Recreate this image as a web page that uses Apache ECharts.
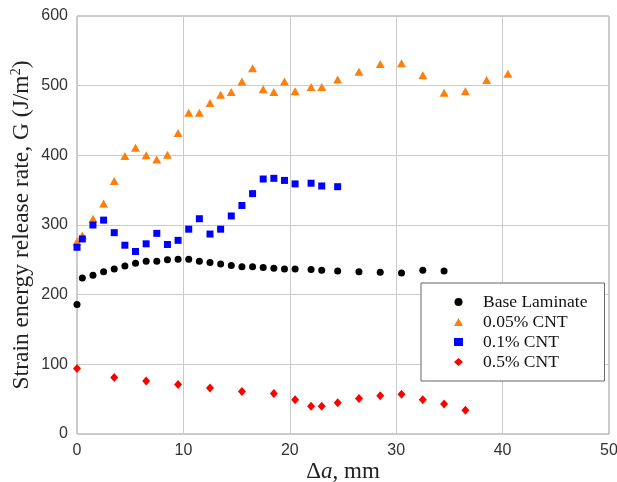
<!DOCTYPE html>
<html>
<head>
<meta charset="utf-8">
<script src="https://cdn.jsdelivr.net/npm/echarts@6/dist/echarts.min.js"></script>
<style>
    html, body { margin: 0; padding: 0; background: #fff; }
    #chart { width: 617px; height: 482px; }
</style>
</head>
<body>
<div id="chart"></div>
<script>
// 数据
var baseX = [0, 0.5, 1.5, 2.5, 3.5, 4.5, 5.5, 6.5, 7.5, 8.5, 9.5, 10.5, 11.5, 12.5, 13.5, 14.5, 15.5, 16.5, 17.5, 18.5, 19.5, 20.5, 22, 23, 24.5, 26.5, 28.5, 30.5, 32.5, 34.5];
var baseY = [186, 224, 228, 233, 237, 241, 245, 248, 248, 250, 251, 251, 248, 246, 244, 242, 240, 240, 239, 238, 237, 237, 236, 235, 234, 233, 232, 231, 235, 234];

var cnt005X = [0, 0.5, 1.5, 2.5, 3.5, 4.5, 5.5, 6.5, 7.5, 8.5, 9.5, 10.5, 11.5, 12.5, 13.5, 14.5, 15.5, 16.5, 17.5, 18.5, 19.5, 20.5, 22, 23, 24.5, 26.5, 28.5, 30.5, 32.5, 34.5, 36.5, 38.5, 40.5];
var cnt005Y = [276, 285, 309, 331, 363, 399, 411, 400, 394, 401, 432, 461, 461, 475, 487, 491, 506, 525, 495, 491, 506, 492, 498, 498, 509, 520, 531, 532, 515, 490, 492, 508, 517];

var cnt01X = [0, 0.5, 1.5, 2.5, 3.5, 4.5, 5.5, 6.5, 7.5, 8.5, 9.5, 10.5, 11.5, 12.5, 13.5, 14.5, 15.5, 16.5, 17.5, 18.5, 19.5, 20.5, 22, 23, 24.5];
var cnt01Y = [268, 280, 300, 307, 289, 271, 262, 273, 288, 272, 278, 294, 309, 287, 294, 313, 328, 345, 366, 367, 364, 359, 360, 356, 355];

var cnt05X = [0, 3.5, 6.5, 9.5, 12.5, 15.5, 18.5, 20.5, 22, 23, 24.5, 26.5, 28.5, 30.5, 32.5, 34.5, 36.5];
var cnt05Y = [94, 81, 76, 71, 66, 61, 58, 49, 40, 40, 45, 51, 55, 57, 49, 43, 34];

var seriesNames = ['Base Laminate', '0.05% CNT', '0.1% CNT', '0.5% CNT'];
var xTicks = [0, 10, 20, 30, 40, 50];
var yTicks = [0, 100, 200, 300, 400, 500, 600];

function pairs(xs, ys) {
    var out = [];
    for (var i = 0; i < xs.length; i++) {
        out.push([xs[i], ys[i]]);
    }
    return out;
}

var serif = '"Liberation Serif", "DejaVu Serif", serif';
var sans = '"Liberation Sans", Arial, sans-serif';

var option = {
    animation: false,
    backgroundColor: '#fff',
    grid: {
        left: 77, right: 8, top: 16, bottom: 48,
        outerBoundsMode: 'none',
        show: true, borderColor: '#9a9a9a', borderWidth: 1
    },
    xAxis: {
        type: 'value',
        min: xTicks[0], max: xTicks[xTicks.length - 1], interval: 10,
        axisLine: { show: false },
        axisTick: { show: false },
        axisLabel: { color: '#333', fontFamily: sans, fontSize: 16, margin: 9 },
        splitLine: { lineStyle: { color: '#cacaca', width: 1 } },
        name: '{n|Δ}{i|a}{n|, mm}',
        nameLocation: 'middle',
        nameMoveOverlap: false,
        nameGap: 26,
        nameTextStyle: {
            rich: {
                n: { fontFamily: serif, fontSize: 23, color: '#222' },
                i: { fontFamily: serif, fontSize: 23, fontStyle: 'italic', color: '#222' }
            }
        }
    },
    yAxis: {
        type: 'value',
        min: yTicks[0], max: yTicks[yTicks.length - 1], interval: 100,
        axisLine: { show: false },
        axisTick: { show: false },
        axisLabel: { color: '#333', fontFamily: sans, fontSize: 16, margin: 9 },
        splitLine: { lineStyle: { color: '#cacaca', width: 1 } },
        name: '{n|Strain energy release rate, G (J/m}{s|2}{n|)}',
        nameLocation: 'middle',
        nameMoveOverlap: false,
        nameGap: 42,
        nameTextStyle: {
            rich: {
                n: { fontFamily: serif, fontSize: 23.5, color: '#222', lineHeight: 26 },
                s: { fontFamily: serif, fontSize: 14, color: '#222', lineHeight: 26, verticalAlign: 'top' }
            }
        }
    },
    legend: {
        orient: 'vertical',
        left: 421, top: 283,
        padding: [10, 17, 10, 33],
        itemWidth: 9, itemHeight: 8,
        itemGap: 2,
        borderColor: '#666', borderWidth: 1,
        backgroundColor: '#fff',
        textStyle: { fontFamily: serif, fontSize: 17.5, color: '#111', lineHeight: 17, padding: [0, 0, 0, 15] },
        data: seriesNames
    },
    series: [
        {
            name: seriesNames[0], type: 'scatter',
            symbol: 'circle', symbolSize: 7,
            itemStyle: { color: '#000', opacity: 1 },
            data: pairs(baseX, baseY)
        },
        {
            name: seriesNames[1], type: 'scatter',
            symbol: 'triangle', symbolSize: [9, 8],
            itemStyle: { color: '#ff7f0e', opacity: 1 },
            data: pairs(cnt005X, cnt005Y)
        },
        {
            name: seriesNames[2], type: 'scatter',
            symbol: 'rect', symbolSize: 7,
            itemStyle: { color: '#0000ff', opacity: 1 },
            data: pairs(cnt01X, cnt01Y)
        },
        {
            name: seriesNames[3], type: 'scatter',
            symbol: 'diamond', symbolSize: [8, 9],
            itemStyle: { color: '#ff0000', opacity: 1 },
            data: pairs(cnt05X, cnt05Y)
        }
    ]
};

var mychart = echarts.init(document.getElementById('chart'));
mychart.setOption(option);
</script>
</body>
</html>
